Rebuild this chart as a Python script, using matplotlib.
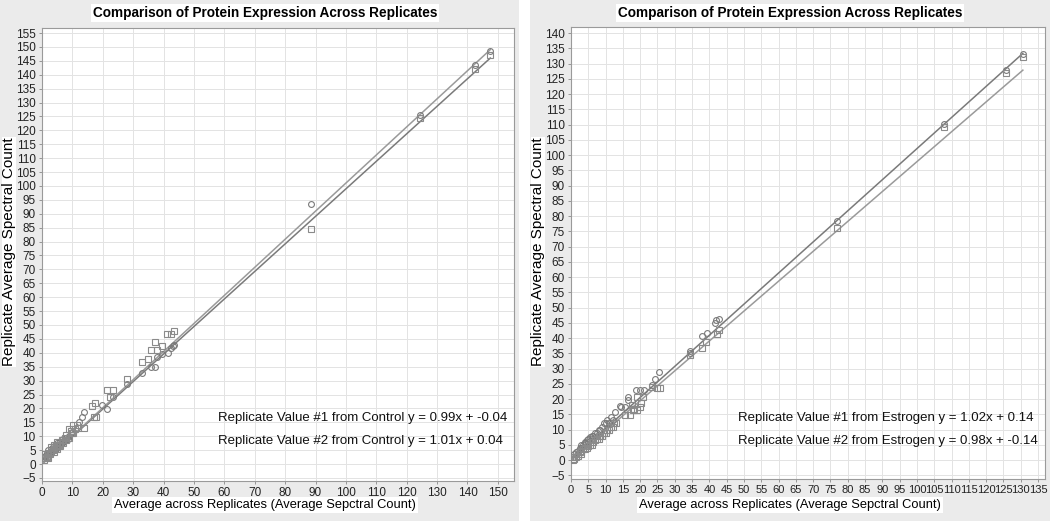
import matplotlib
matplotlib.use("Agg")
import matplotlib.pyplot as plt
from matplotlib.patches import Rectangle
import numpy as np

plt.rcParams['font.family'] = ['Liberation Sans', 'DejaVu Sans']

title = "Comparison of Protein Expression Across Replicates"
xlabel = "Average across Replicates (Average Sepctral Count)"
ylabel = "Replicate Average Spectral Count"

# ---------------- Control panel data ----------------
ctrl_circle_x = [147.5, 142.5, 124.5, 88.5,
                 43.4, 43.0, 42.5, 41.4, 39.6, 37.9, 37.3, 35.7, 32.8, 28.0,
                 23.2, 21.4, 19.9, 13.8, 13.0, 12.2,
                 0.5, 1.0, 1.0, 1.5, 2.0, 2.0, 2.5, 3.0, 3.0, 3.5, 4.0, 4.0, 4.5,
                 5.0, 5.0, 5.5, 6.0, 6.0, 6.5, 7.0, 7.0, 7.5, 8.0, 8.5, 9.0, 9.5, 10.0]
ctrl_circle_y = [148.5, 143.5, 125.5, 93.5,
                 42.8, 42.4, 41.6, 39.8, 39.6, 38.6, 34.8, 34.8, 32.8, 28.8,
                 24.0, 19.8, 21.1, 18.8, 16.8, 15.2,
                 2.0, 2.5, 3.0, 4.0, 3.0, 5.0, 4.5, 5.5, 4.0, 6.0, 5.0, 6.5, 5.5,
                 6.0, 7.5, 6.5, 7.0, 8.0, 7.5, 8.0, 9.0, 8.5, 9.5, 9.0, 10.0, 11.0, 11.5]
ctrl_square_x = [147.5, 142.5, 124.5, 88.5,
                 43.4, 42.3, 41.2, 39.4, 37.7, 37.3, 36.0, 34.9, 32.8, 28.0,
                 23.4, 22.3, 21.4, 17.9, 17.5, 17.0, 16.6, 13.8, 11.6, 10.3, 10.3, 9.0,
                 0.5, 1.0, 1.0, 1.5, 2.0, 2.0, 2.5, 3.0, 3.0, 3.5, 4.0, 4.0, 4.5,
                 5.0, 5.0, 5.5, 6.0, 6.5, 7.0, 7.5, 8.0, 8.0, 9.0, 9.5, 10.0, 11.0, 12.0]
ctrl_square_y = [147.0, 142.0, 124.5, 84.5,
                 47.8, 46.7, 46.7, 42.5, 40.9, 43.8, 40.9, 37.9, 36.6, 30.7,
                 26.6, 24.0, 26.6, 17.0, 21.8, 17.0, 20.9, 12.8, 14.0, 14.0, 11.0, 12.5,
                 1.5, 2.0, 3.5, 2.5, 2.0, 4.0, 3.5, 4.5, 6.0, 5.0, 4.5, 7.0, 6.5,
                 5.5, 8.0, 7.0, 6.5, 8.5, 7.5, 9.5, 8.5, 10.5, 9.5, 12.0, 11.0, 12.5, 13.0]
ctrl_labels = ["Replicate Value #1 from Control y = 0.99x + -0.04",
               "Replicate Value #2 from Control y = 1.01x + 0.04"]
ctrl_slopes = [0.99, 1.01]
ctrl_intercepts = [-0.04, 0.04]
ctrl_line_range = [0.5, 147.5]
ctrl_xticks = list(range(0, 151, 10))
ctrl_yticks = list(range(-5, 156, 5))

# ---------------- Estrogen panel data ----------------
estr_circle_x = [130.5, 125.6, 107.7, 77.0,
                 42.7, 42.0, 41.7, 39.3, 37.9, 34.5, 34.5,
                 25.5, 24.3, 23.5, 21.0, 20.0, 18.8, 16.6, 16.6, 15.7, 14.5, 14.2, 12.8,
                 0.5, 1.0, 1.5, 2.0, 2.5, 3.0, 3.0, 3.5, 4.0, 4.0, 4.5, 5.0, 5.0, 5.5,
                 6.0, 6.0, 6.5, 7.0, 7.5, 8.0, 8.5, 9.0, 9.5, 10.0, 10.5, 11.0, 11.5, 12.0]
estr_circle_y = [133.3, 127.9, 110.2, 78.5,
                 46.1, 45.9, 44.8, 41.7, 40.7, 35.7, 35.0,
                 28.8, 26.6, 24.6, 23.0, 23.0, 23.0, 20.8, 19.7, 17.5, 17.5, 17.8, 15.8,
                 1.0, 2.0, 2.5, 3.0, 4.0, 4.0, 5.0, 5.0, 5.5, 6.0, 6.5, 6.0, 7.0, 7.5,
                 7.0, 8.0, 8.0, 9.0, 9.0, 10.0, 10.0, 11.0, 12.0, 12.0, 13.0, 12.0, 14.0, 13.0]
estr_square_x = [130.5, 125.6, 107.7, 77.0,
                 42.7, 42.2, 39.1, 37.9, 34.5,
                 25.6, 24.8, 23.5, 20.8, 20.2, 19.8, 19.0, 19.0, 18.3, 18.0, 17.6, 17.1, 15.7,
                 0.5, 1.0, 1.0, 1.5, 2.0, 2.0, 2.5, 3.0, 3.0, 3.5, 4.0, 4.0, 4.5, 5.0,
                 5.5, 6.0, 6.0, 6.5, 7.0, 7.5, 8.0, 8.0, 8.5, 9.0, 9.5, 10.0, 10.5, 11.0,
                 11.5, 12.0, 12.5, 13.0]
estr_square_y = [132.2, 127.0, 109.1, 76.0,
                 42.6, 41.5, 38.8, 36.6, 34.5,
                 23.7, 23.7, 24.0, 20.8, 18.8, 17.5, 20.8, 16.4, 16.6, 16.4, 18.0, 14.8, 14.8,
                 0.0, 0.5, 1.0, 1.0, 1.5, 2.0, 2.5, 2.0, 3.0, 3.5, 3.5, 4.0, 4.0, 4.5,
                 5.0, 5.0, 6.0, 6.0, 6.5, 7.0, 7.0, 8.0, 8.0, 8.0, 9.0, 9.0, 10.0, 10.0,
                 11.0, 11.0, 12.0, 12.0]
estr_labels = ["Replicate Value #1 from Estrogen y = 1.02x + 0.14",
               "Replicate Value #2 from Estrogen y = 0.98x + -0.14"]
estr_slopes = [1.02, 0.98]
estr_intercepts = [0.14, -0.14]
estr_line_range = [0.5, 130.6]
estr_xticks = list(range(0, 136, 5))
estr_yticks = list(range(-5, 141, 5))

W, H = 1050, 521
fig = plt.figure(figsize=(W / 100, H / 100), dpi=100, facecolor='white')

panel_gray = '#ebebeb'
fig.patches.append(Rectangle((0, 0), 519 / W, 1, transform=fig.transFigure,
                             facecolor=panel_gray, edgecolor='none', zorder=-10))
fig.patches.append(Rectangle((530 / W, 0), 1 - 530 / W, 1, transform=fig.transFigure,
                             facecolor=panel_gray, edgecolor='none', zorder=-10))


def px_axes(x0, x1, ytop, ybot):
    return [x0 / W, (H - ybot) / H, (x1 - x0) / W, (ybot - ytop) / H]


def draw_panel(ax, cx, cy, sx, sy, slopes, intercepts, lrange, labels,
               xticks, yticks, xlim, ylim, xtick_fs, text_pos):
    ax.set_facecolor('white')
    ax.set_xlim(*xlim)
    ax.set_ylim(*ylim)
    ax.set_xticks(xticks)
    ax.set_yticks(yticks)
    ax.tick_params(axis='y', labelsize=8.5)
    ax.tick_params(axis='x', labelsize=xtick_fs)
    ax.tick_params(length=2.5, width=0.6, color='#888888',
                   pad=2, labelcolor='#222222')
    ax.grid(True, color='#e3e3e3', linewidth=0.7)
    ax.set_axisbelow(True)
    for s in ax.spines.values():
        s.set_color('#9a9a9a')
        s.set_linewidth(0.8)
    xl = np.array(lrange)
    line_cols = ['#7a7a7a', '#9a9a9a']
    for m, b, c in zip(slopes, intercepts, line_cols):
        ax.plot(xl, m * xl + b, color=c, lw=1.1, zorder=3)
    ax.plot(cx, cy, linestyle='none', marker='o', markersize=4.2,
            markerfacecolor='none', markeredgecolor='#7a7a7a', mew=0.8, zorder=4)
    ax.plot(sx, sy, linestyle='none', marker='s', markersize=4.0,
            markerfacecolor='none', markeredgecolor='#8a8a8a', mew=0.8, zorder=4)
    tx, ty1, ty2 = text_pos
    ax.text(tx, ty1, labels[0], transform=ax.transAxes, fontsize=9.5,
            color='#111111', va='center', ha='left')
    ax.text(tx, ty2, labels[1], transform=ax.transAxes, fontsize=9.5,
            color='#111111', va='center', ha='left')


ax1 = fig.add_axes(px_axes(42, 514, 28, 481))
draw_panel(ax1, ctrl_circle_x, ctrl_circle_y, ctrl_square_x, ctrl_square_y,
           ctrl_slopes, ctrl_intercepts, ctrl_line_range, ctrl_labels,
           ctrl_xticks, ctrl_yticks, (0, 155.3), (-6.1, 156.8), 8.5,
           (0.373, 0.139, 0.088))

ax2 = fig.add_axes(px_axes(571, 1045, 27, 479))
draw_panel(ax2, estr_circle_x, estr_circle_y, estr_square_x, estr_square_y,
           estr_slopes, estr_intercepts, estr_line_range, estr_labels,
           estr_xticks, estr_yticks, (0, 137.0), (-6.2, 142.0), 8.0,
           (0.352, 0.135, 0.084))

box = dict(facecolor='white', edgecolor='none', pad=1.5)
ybox = dict(facecolor='white', edgecolor='none', pad=0.3)
for cxp in (265, 790):
    fig.text(cxp / W, 1 - 13 / H, title, ha='center', va='center',
             fontsize=9.8, fontweight='bold', bbox=box)
    fig.text(cxp / W, 1 - 505 / H, xlabel, ha='center', va='center',
             fontsize=9.3, bbox=box)
fig.text(9 / W, 1 - 252 / H, ylabel, rotation=90, ha='center', va='center',
         fontsize=11, bbox=ybox)
fig.text(538 / W, 1 - 252 / H, ylabel, rotation=90, ha='center', va='center',
         fontsize=11, bbox=ybox)

fig.savefig('out.png', dpi=100, facecolor=fig.get_facecolor())
